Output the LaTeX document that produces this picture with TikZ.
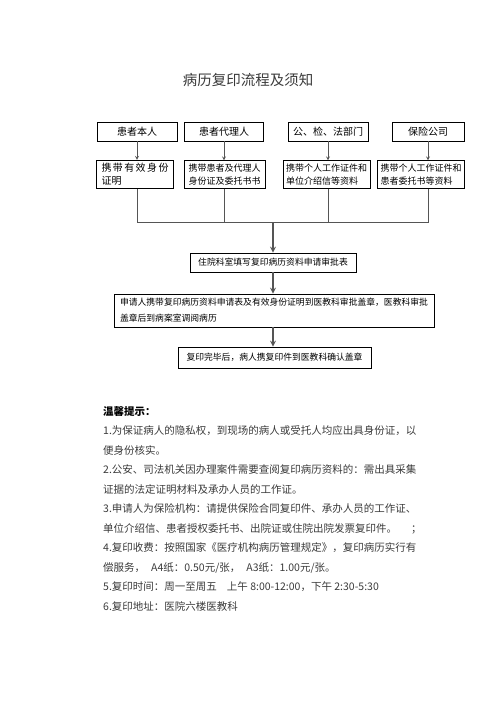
\documentclass[tikz,border=0pt]{standalone}
\usepackage{fontspec}
\setmainfont{Noto Sans CJK SC}
\definecolor{txtgray}{HTML}{3A3A3A}
\definecolor{linegray}{HTML}{555555}
\begin{document}
\begin{tikzpicture}[
        x=1pt, y=-1pt,
        topbox/.style={draw, thick, minimum height=19pt, inner sep=1pt, font=\fontsize{10}{12}\selectfont},
        infobox/.style={draw, thick, minimum height=25pt, inner sep=3pt, align=left, font=\fontsize{9}{13}\selectfont},
        stepbox/.style={draw, thick, inner sep=4pt, align=left, font=\fontsize{8.8}{16}\selectfont},
        line/.style={linegray, thick},
        arrow/.style={-stealth, linegray, line width=1.6pt},
        tip/.style={anchor=base west, inner sep=0pt, txtgray, font=\fontsize{10.5}{12}\selectfont}
    ]
        \useasboundingbox (0,0) rectangle (496,702);
        % title
        \node[txtgray, font=\fontsize{14.5}{16}\selectfont] (title) at (248,80) {病历复印流程及须知};

        % who applies
        \node[topbox, minimum width=80pt] (t1) at (137,131.5) {患者本人};
        \node[topbox, minimum width=79pt] (t2) at (224,131.5) {患者代理人};
        \node[topbox, minimum width=80pt] (t3) at (328,131.5) {公、检、法部门};
        \node[topbox, minimum width=72pt] (t4) at (428,131.5) {保险公司};

        % what to bring
        \node[infobox, minimum width=77pt, font=\fontsize{10}{13}\selectfont] (b1) at (135,174.5)
            {\makebox[67pt][s]{携\hfill 带\hfill 有\hfill 效\hfill 身\hfill 份}\\证明};
        \node[infobox, minimum width=81pt] (b2) at (224.5,174.5) {携带患者及代理人\\身份证及委托书书};
        \node[infobox, minimum width=87pt] (b3) at (326.5,174.5) {携带个人工作证件和\\单位介绍信等资料};
        \node[infobox, minimum width=76pt] (b4) at (421,174.5) {携带个人工作证件和\\患者委托书等资料};

        % steps
        \node[stepbox, minimum width=166pt, minimum height=19pt] (s1) at (273,262.5) {住院科室填写复印病历资料申请审批表};
        \node[stepbox, minimum width=320pt, minimum height=33pt] (s2) at (274,310.5)
            {申请人携带复印病历资料申请表及有效身份证明到医教科审批盖章，医教科审批\\盖章后到病案室调阅病历};
        \node[stepbox, minimum width=193pt, minimum height=21pt] (s3) at (274.5,357.5) {复印完毕后，病人携复印件到医教科确认盖章};

        % connect components
        \coordinate (bus) at (273,222);
        \foreach \i in {1,...,4} {
            \draw[line, -stealth] (t\i) -- (t\i.south |- b\i.north);
            \draw[line] (t\i.south |- b\i.south) |- (bus);
        }
        \draw[arrow] (bus) -- (s1);
        \draw[arrow] (s1) -- (s2.north -| s1.south);
        \draw[arrow] (s2.south -| s1.south) -- (s3.north -| s1.south);

        % notes
        \node[tip, black, font=\fontsize{10.5}{12}\selectfont\bfseries] (note) at (103,415) {温馨提示：};
        \foreach \t [count=\i] in {
            {1.为保证病人的隐私权，到现场的病人或受托人均应出具身份证，以},
            {便身份核实。},
            {2.公安、司法机关因办理案件需要查阅复印病历资料的：需出具采集},
            {证据的法定证明材料及承办人员的工作证。},
            {3.申请人为保险机构：请提供保险合同复印件、承办人员的工作证、},
            {单位介绍信、患者授权委托书、出院证或住院出院发票复印件。\hspace{14pt}；},
            {4.复印收费：按照国家《医疗机构病历管理规定》，复印病历实行有},
            {偿服务，\hspace{6pt}A4纸：0.50元/张，\hspace{6pt}A3纸：1.00元/张。},
            {5.复印时间：周一至周五\hspace{10pt}上午 8:00-12:00，下午 2:30-5:30},
            {6.复印地址：医院六楼医教科}}
            \node[tip] (line\i) at (103,415+19.5*\i) {\t};
    \end{tikzpicture}
\end{document}
